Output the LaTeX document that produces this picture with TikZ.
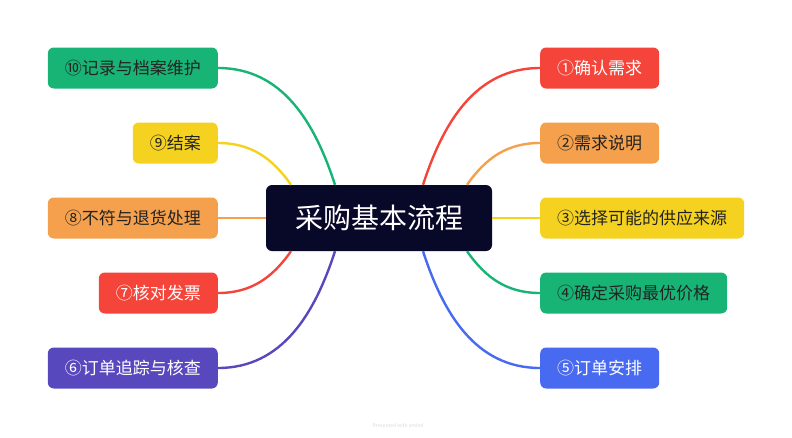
\documentclass[tikz,border=0pt]{standalone}
\usepackage{fontspec}
\setmainfont{Noto Sans CJK SC}
\definecolor{TopicNavy}{RGB}{8,8,40}
\definecolor{MapGreen}{RGB}{24,180,118}
\definecolor{MapYellow}{RGB}{245,210,32}
\definecolor{MapOrange}{RGB}{245,160,76}
\definecolor{MapRed}{RGB}{245,68,58}
\definecolor{MapIndigo}{RGB}{88,72,190}
\definecolor{MapBlue}{RGB}{72,106,240}
\definecolor{TxtDark}{RGB}{35,35,35}
\usetikzlibrary{positioning}

\begin{document}
\begin{tikzpicture}[x=1pt, y=1pt,
	topic/.style={rectangle, rounded corners=6pt, fill=TopicNavy, text=white, minimum width=226pt, minimum height=66pt, inner sep=0pt, font=\fontsize{28pt}{32pt}\selectfont},
	sub/.style={rectangle, rounded corners=6pt, minimum height=41pt, inner xsep=17pt, inner ysep=0pt, font=\fontsize{17pt}{20pt}\selectfont},
	link/.style={line width=2.4pt}]
	\useasboundingbox (0,0) rectangle (792,-437);
	% tema central
	\node[topic] (c) at (379,-218) {采购基本流程};
	% ramas derechas
	\foreach \i/\y/\col/\tc/\txt in {1/68/MapRed/white/①确认需求, 2/143/MapOrange/TxtDark/②需求说明,
		3/218/MapYellow/TxtDark/③选择可能的供应来源, 4/293/MapGreen/TxtDark/④确定采购最优价格, 5/368/MapBlue/white/⑤订单安排}
		{\node[sub, fill=\col, text=\tc, anchor=west] (r\i) at (540,-\y) {\txt};}
	% ramas izquierdas
	\foreach \i/\y/\col/\tc/\txt in {10/68/MapGreen/TxtDark/⑩记录与档案维护, 9/143/MapYellow/TxtDark/⑨结案,
		8/218/MapOrange/TxtDark/⑧不符与退货处理, 7/293/MapRed/white/⑦核对发票, 6/368/MapIndigo/white/⑥订单追踪与核查}
		{\node[sub, fill=\col, text=\tc, anchor=east] (l\i) at (218,-\y) {\txt};}
	% conexiones
	\draw[link, MapRed] ([xshift=44pt]c.north) to[out=72, in=180] (r1.west);
	\draw[link, MapOrange] ([xshift=88pt]c.north) to[out=55, in=180] (r2.west);
	\draw[link, MapYellow] (c.east) -- (r3.west);
	\draw[link, MapGreen] ([xshift=88pt]c.south) to[out=-55, in=180] (r4.west);
	\draw[link, MapBlue] ([xshift=44pt]c.south) to[out=-72, in=180] (r5.west);
	\draw[link, MapGreen] ([xshift=-44pt]c.north) to[out=108, in=0] (l10.east);
	\draw[link, MapYellow] ([xshift=-88pt]c.north) to[out=125, in=0] (l9.east);
	\draw[link, MapOrange] (c.west) -- (l8.east);
	\draw[link, MapRed] ([xshift=-88pt]c.south) to[out=-125, in=0] (l7.east);
	\draw[link, MapIndigo] ([xshift=-44pt]c.south) to[out=-108, in=0] (l6.east);
	\node[text=gray!30, font=\fontsize{5pt}{6pt}\selectfont] (mark) at (398,-426) {Presented with xmind};
\end{tikzpicture}
\end{document}
